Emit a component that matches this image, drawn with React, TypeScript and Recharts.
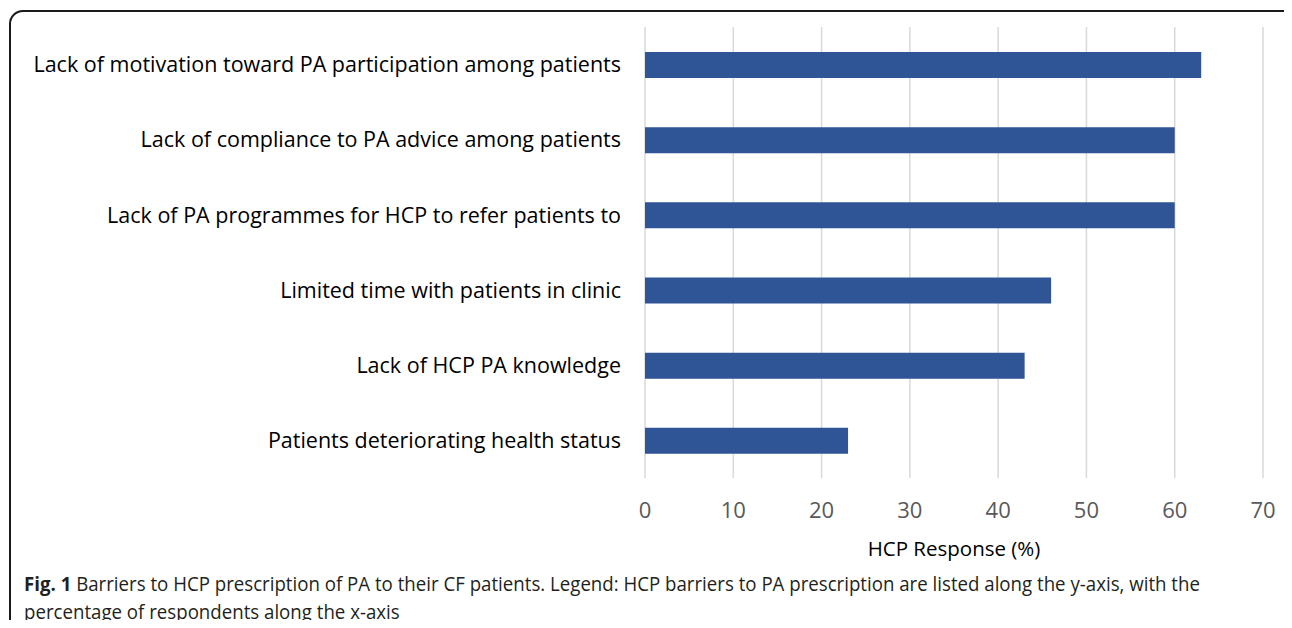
import { Bar, BarChart, CartesianGrid, Label, XAxis, YAxis } from "recharts";

const barriers = [
  "Lack of motivation toward PA participation among patients",
  "Lack of compliance to PA advice among patients",
  "Lack of PA programmes for HCP to refer patients to",
  "Limited time with patients in clinic",
  "Lack of HCP PA knowledge",
  "Patients deteriorating health status",
];
const responses = [63, 60, 60, 46, 43, 23];
const xTicks = [0, 10, 20, 30, 40, 50, 60, 70];

const data = barriers.map((name, i) => ({ name, value: responses[i] }));

const font = "'Open Sans', sans-serif";

export default function App() {
  return (
    <div
      style={{
        position: "relative",
        margin: -8,
        width: 1292,
        height: 628,
        overflow: "hidden",
        background: "#fff",
        fontFamily: font,
      }}
    >
      <div
        style={{
          position: "absolute",
          left: 9,
          top: 10,
          width: 1310,
          height: 650,
          border: "2px solid #1a1a1a",
          borderRadius: 14,
        }}
      />
      <div style={{ position: "absolute", left: 0, top: 0 }}>
        <BarChart
          width={1280}
          height={570}
          layout="vertical"
          data={data}
          margin={{ top: 27, right: 17, bottom: 0, left: 0 }}
        >
          <CartesianGrid horizontal={false} stroke="#d9d9d9" strokeWidth={1.5} />
          <XAxis
            type="number"
            domain={[0, 70]}
            ticks={xTicks}
            axisLine={false}
            tickLine={false}
            tickSize={0}
            tickMargin={24}
            height={92}
            tick={{ fill: "#595959", fontSize: 22, fontFamily: font }}
          >
            <Label
              value="HCP Response (%)"
              position="insideBottom"
              offset={14}
              style={{ fill: "#000", fontSize: 20.5, fontFamily: font }}
            />
          </XAxis>
          <YAxis
            type="category"
            dataKey="name"
            width={645}
            axisLine={false}
            tickLine={false}
            tickSize={0}
            tickMargin={24}
            interval={0}
            tick={{ fill: "#000", fontSize: 21.5, fontFamily: font }}
          />
          <Bar dataKey="value" fill="#2F5597" barSize={26} isAnimationActive={false} />
        </BarChart>
      </div>
      <div
        style={{
          position: "absolute",
          left: 24,
          top: 570,
          fontSize: 19.5,
          lineHeight: "28px",
          color: "#231f20",
          whiteSpace: "nowrap",
          transform: "scaleX(0.957)",
          transformOrigin: "left top",
        }}
      >
        <b>Fig. 1</b> Barriers to HCP prescription of PA to their CF patients. Legend: HCP barriers to PA prescription are listed along the y-axis, with the
        <br />
        percentage of respondents along the x-axis
      </div>
    </div>
  );
}
